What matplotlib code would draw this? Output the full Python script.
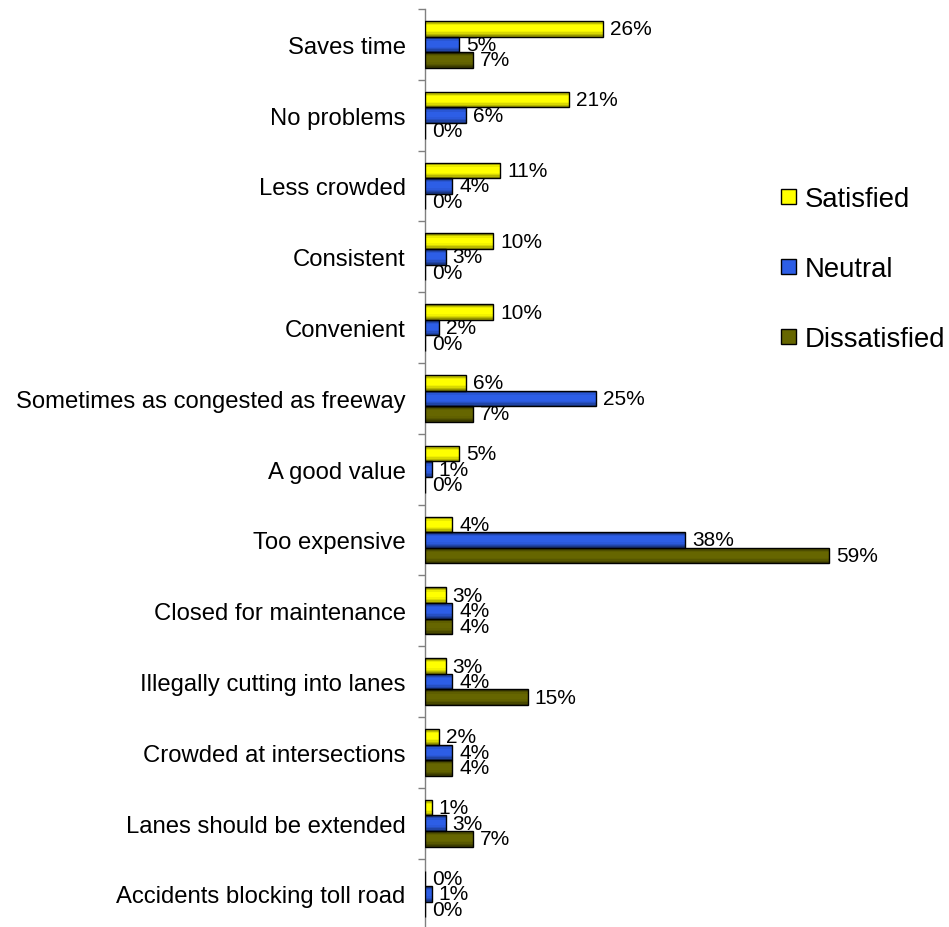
import matplotlib
matplotlib.use("Agg")
import matplotlib.pyplot as plt
import numpy as np
from matplotlib.patches import Patch
from matplotlib.colors import to_rgb

plt.rcParams['font.family'] = ['Liberation Sans', 'DejaVu Sans']

categories = [
    "Saves time",
    "No problems",
    "Less crowded",
    "Consistent",
    "Convenient",
    "Sometimes as congested as freeway",
    "A good value",
    "Too expensive",
    "Closed for maintenance",
    "Illegally cutting into lanes",
    "Crowded at intersections",
    "Lanes should be extended",
    "Accidents blocking toll road",
]
satisfied = [26, 21, 11, 10, 10, 6, 5, 4, 3, 3, 2, 1, 0]
neutral = [5, 6, 4, 3, 2, 25, 1, 38, 4, 4, 4, 3, 1]
dissatisfied = [7, 0, 0, 0, 0, 7, 0, 59, 4, 15, 4, 7, 0]

series_names = ["Satisfied", "Neutral", "Dissatisfied"]
series_colors = ["#ffff00", "#2d5ee6", "#666600"]

# shading across the bar height, darker at the rims like old office charts
shade = np.array([0.55, 0.75, 0.92, 1.0, 1.0, 1.0, 1.0, 0.95, 0.85, 0.72, 0.58])

fig = plt.figure(figsize=(9.49, 9.28), dpi=100)
ax = fig.add_axes([425 / 949, 1 - 930.4 / 928, 445 / 949, 920.4 / 928])

y = np.arange(len(categories))
h = 0.22
offsets = [-h, 0, h]
n = len(shade)
strip = h / n

for vals, off, col in zip([satisfied, neutral, dissatisfied], offsets, series_colors):
    rgb = np.array(to_rgb(col))
    top = y + off - h / 2
    # shaded strips, top (screen) to bottom
    for i, s in enumerate(shade):
        ax.barh(top + (i + 0.5) * strip, vals, height=strip * 1.02,
                color=np.clip(rgb * s, 0, 1), linewidth=0, zorder=3)
    ax.barh(y + off, vals, height=h, facecolor="none", edgecolor="black",
            linewidth=1.0, zorder=4)
    for yi, v in zip(y + off, vals):
        ax.text(v + 1.0, yi, f"{v}%", fontsize=15, ha="left", va="center",
                zorder=5)

ax.set_xlim(0, 65)
ax.set_ylim(len(categories) - 0.5, -0.5)

ax.set_yticks(y)
ax.set_yticklabels(categories, fontsize=17.2)
ax.set_yticks(np.arange(len(categories)) - 0.5, minor=True)
ax.tick_params(axis="y", which="major", length=0, pad=14)
ax.tick_params(axis="y", which="minor", length=5, width=1, color="#808080",
               direction="out")
ax.set_xticks([])

for s in ["top", "right", "bottom"]:
    ax.spines[s].set_visible(False)
ax.spines["left"].set_color("#808080")
ax.spines["left"].set_linewidth(1)

handles = [Patch(facecolor=c, edgecolor="black", linewidth=1) for c in series_colors]
fig.legend(handles, series_names, loc="center left",
           bbox_to_anchor=(781 / 949, 1 - 270 / 928), frameon=False,
           fontsize=19.8, handlelength=0.55, handleheight=0.48, handletextpad=0.33,
           labelspacing=1.6, borderpad=0, borderaxespad=0)

fig.savefig("out.png", dpi=100)
